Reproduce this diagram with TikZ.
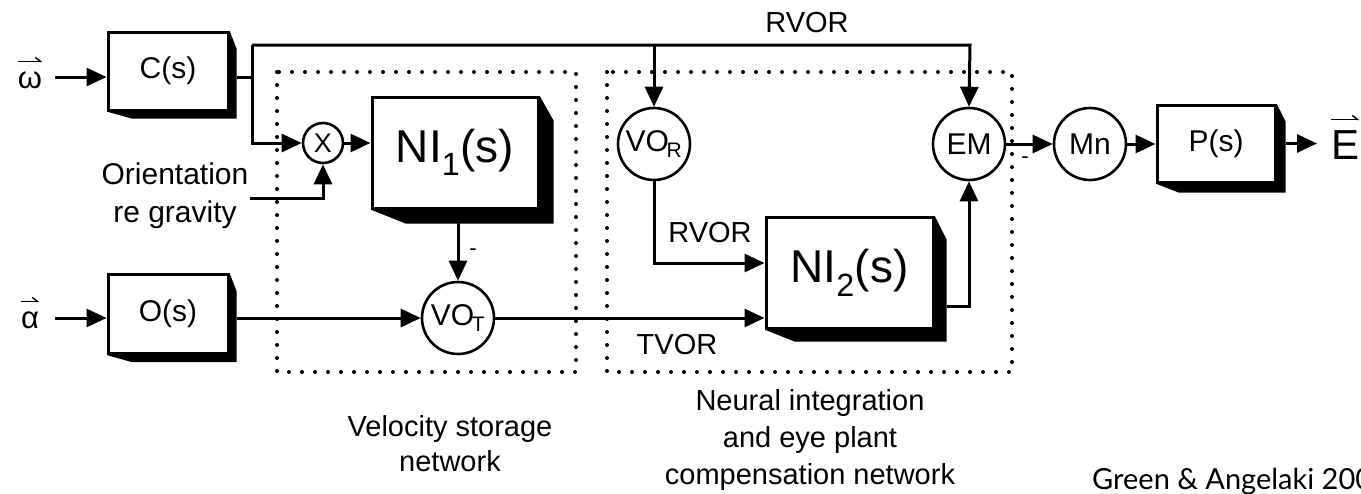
\documentclass[tikz,border=0pt]{standalone}
\usepackage{fontspec}
\setmainfont{Liberation Sans}
\newfontfamily\gillfont{Lato}
\usetikzlibrary{arrows.meta}
\newcommand\boxdrop[4]{\fill (#1.north east) -- ([xshift=#2pt,yshift=-#3pt]#1.north east) -- ([xshift=#2pt,yshift=-#2pt]#1.south east) -- ([xshift=#4pt,yshift=-#2pt]#1.south west) -- (#1.south west) -- (#1.south east) -- cycle;}
\begin{document}
\begin{tikzpicture}[x=1pt,y=-1pt,
  conn/.style={line width=3pt},
  arr/.style={conn,-{Triangle[length=20pt,width=18pt]}},
  vec/.style={line width=1.6pt,-{Straight Barb[harpoon,length=5pt,width=8pt,line width=1.4pt]}},
  blk/.style={draw,line width=3pt,fill=white,inner sep=0pt,font=\fontsize{30}{36}\selectfont},
  bigblk/.style={blk,font=\fontsize{46}{54}\selectfont},
  sumnode/.style={draw,circle,line width=2.6pt,fill=white,inner sep=0pt,minimum size=72pt,font=\fontsize{30}{36}\selectfont},
  lbl/.style={font=\fontsize{29}{34}\selectfont,inner sep=0pt},
  caption/.style={inner sep=0pt,align=center},
  grp/.style={line width=4pt,dash pattern=on 0pt off 13pt,line cap=round},
]
\useasboundingbox (0,0) rectangle (1361,493);
% groups
\draw[grp] (277,72) rectangle (576,372);
\draw[grp] (607,72) rectangle (1012,372);
% coordinates
\coordinate (win) at (55,77);
\coordinate (ain) at (55,318);
\coordinate (jc) at (252,77);
\coordinate (jt) at (252,45);
\coordinate (jb) at (252,143);
\coordinate (jr) at (654,45);
\coordinate (te) at (970,45);
\coordinate (og) at (250,198);
\coordinate (eout) at (1317,143.5);
% nodes
\node[lbl,font=\fontsize{31}{36}\selectfont] (omega) at (30,80) {ω};
\draw[vec] ([yshift=10pt]omega.north west) -- ([yshift=10pt]omega.north east);
\node[lbl,font=\fontsize{31}{36}\selectfont] (alpha) at (30,320) {α};
\draw[vec] ([yshift=10pt]alpha.north west) -- ([yshift=10pt]alpha.north east);
\node[blk,minimum width=120pt,minimum height=78pt] (cs) at (168,71) {C(s)};
\boxdrop{cs}{7}{18}{25}
\node[blk,minimum width=120pt,minimum height=79pt] (os) at (168,314) {O(s)};
\boxdrop{os}{7}{18}{25}
\node[sumnode,minimum size=40pt,font=\fontsize{27}{30}\selectfont] (X) at (323,143) {X};
\node[bigblk,minimum width=166pt,minimum height=111pt] (ni1) at (455,152.5) {NI\textsubscript{1}(s)};
\boxdrop{ni1}{14}{25}{35}
\node[sumnode] (vot) at (458,318) {VO\kern-0.08em\textsubscript{T}};
\node[sumnode] (vor) at (654,144) {VO\kern-0.08em\textsubscript{R}};
\node[sumnode] (em) at (969,144) {EM};
\node[sumnode] (mn) at (1090,144) {Mn};
\node[bigblk,minimum width=167pt,minimum height=111pt] (ni2) at (849.5,272.5) {NI\textsubscript{2}(s)};
\boxdrop{ni2}{12}{24}{30}
\node[blk,minimum width=118pt,minimum height=77pt] (ps) at (1216,143.5) {P(s)};
\boxdrop{ps}{9}{18}{23}
\node[lbl,font=\fontsize{42}{48}\selectfont] (E) at (1345,145) {E};
\draw[vec] ([yshift=11pt]E.north west) -- ([yshift=11pt]E.north east);
% connectors
\draw[arr] (win) -- ([yshift=-6pt]cs.west);
\draw[arr] (ain) -- ([yshift=-4pt]os.west);
\draw[conn] ([xshift=7pt,yshift=-6pt]cs.east) -- (jc);
\draw[arr] (jt) -- (jb) -- (X.west);
\draw[arr] (jt) -- (te) -- (em.north);
\draw[arr] (jr) -- (vor.north);
\draw[arr] (og) -| (X.south);
\draw[arr] (X.east) -- (X.east -| ni1.west);
\draw[arr] (vot |- ni1.south) -- (vot.north);
\draw[arr] ([xshift=7pt,yshift=-4pt]os.east) -- (vot.west);
\draw[arr] (vot.east) -- (vot.east -| ni2.west);
\draw[arr] (vor.south) |- ([yshift=9.5pt]ni2.west);
\draw[arr] ([xshift=12pt,yshift=-33.5pt]ni2.east) -| (em.south);
\draw[arr] (em.east) -- (mn.west);
\draw[arr] (mn.east) -- (mn.east -| ps.west);
\draw[arr] ([xshift=9pt]ps.east) -- (eout);
% labels
\node[lbl] (rvortop) at (807,23) {RVOR};
\node[lbl] (rvormid) at (710,233) {RVOR};
\node[lbl] (tvor) at (677,345) {TVOR};
\node[lbl,font=\fontsize{22}{26}\selectfont] (neg1) at (473,252) {-};
\node[lbl,font=\fontsize{22}{26}\selectfont] (neg2) at (1025,160) {-};
\node[caption,font=\fontsize{30}{38}\selectfont] (orient) at (175,196) {Orientation\\re gravity};
\node[caption,font=\fontsize{29}{35}\selectfont] (vsn) at (450,444) {Velocity storage\\network};
\node[caption,font=\fontsize{29}{37}\selectfont] (nin) at (810,440) {Neural integration\\and eye plant\\compensation network};
\node[inner sep=0pt,anchor=base west,font=\gillfont\fontsize{29}{36}\selectfont] (cite) at (1092,489) {Green \& Angelaki 2009};
\end{tikzpicture}
\end{document}
